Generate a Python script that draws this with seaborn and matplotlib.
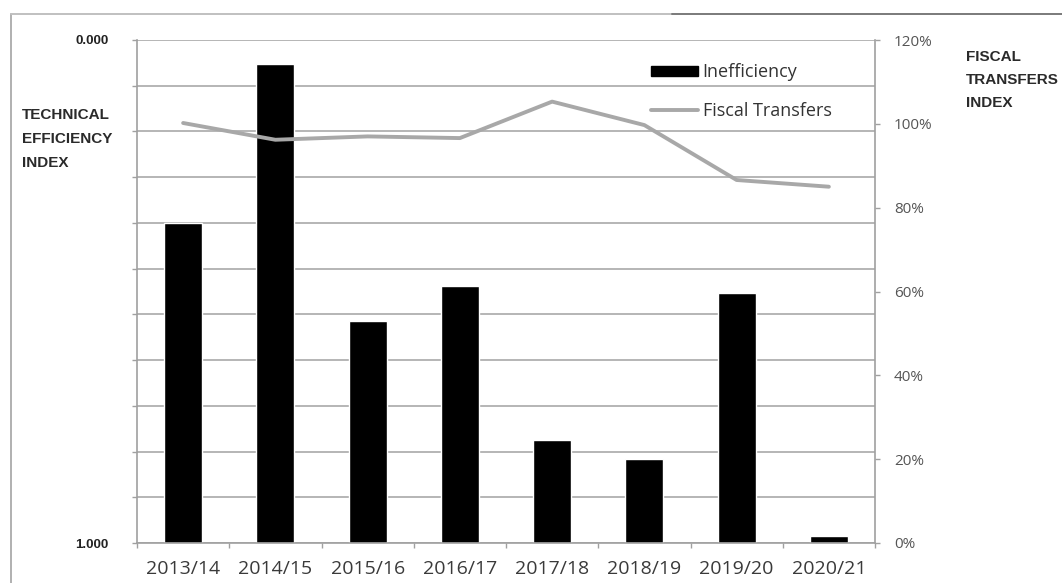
import numpy as np
import pandas as pd
import matplotlib
matplotlib.use("Agg")
import matplotlib.pyplot as plt
from matplotlib.lines import Line2D
from matplotlib.patches import Patch
import seaborn as sns

# Fiscal years
years = ["2013/14", "2014/15", "2015/16", "2016/17", "2017/18", "2018/19", "2019/20", "2020/21"]
# Inefficiency (1 - technical efficiency index)
inefficiency = [0.637, 0.952, 0.442, 0.510, 0.204, 0.167, 0.498, 0.013]
# Fiscal transfers index (share)
fiscal_transfers = [1.002, 0.962, 0.970, 0.966, 1.053, 0.997, 0.866, 0.850]

df = pd.DataFrame({"year": years,
                   "inefficiency": inefficiency,
                   "transfers": fiscal_transfers,
                   "pos": np.arange(len(years))})

sns.set_theme(style="white")
plt.rcParams["font.family"] = ["Open Sans", "DejaVu Sans"]

W, H = 1062, 583
fig = plt.figure(figsize=(W / 100, H / 100), dpi=100)
ax = fig.add_axes([137 / W, 1 - 543 / H, (875 - 137) / W, (543 - 40) / H])

grid_c = "#b5b5b5"
axis_c = "#a0a0a0"

# Bars: inefficiency measured up from 1.000 on the efficiency scale
sns.barplot(data=df, x="year", y="inefficiency", color="black", saturation=1,
            width=0.41, ax=ax, zorder=2)
ax.set_xlim(-0.5, len(years) - 0.5)
ax.set_ylim(0, 1)
ax.set_xlabel("")
ax.set_ylabel("")

# Left scale: 0.000 at the top, 1.000 at the bottom
yt = np.linspace(0, 1, 12)
ax.set_yticks(yt)
ax.set_yticklabels(["1.000"] + [""] * 10 + ["0.000"])
ax.yaxis.grid(True, color=grid_c, linewidth=1.4, zorder=0)
ax.set_axisbelow(True)
ax.tick_params(axis="y", which="major", left=True, length=3.6, width=1,
               color=axis_c, labelsize=9.5, pad=17, labelcolor="#222222")
for lab in ax.get_yticklabels():
    lab.set_fontweight("bold")
    lab.set_family(["Liberation Sans", "DejaVu Sans"])

# X axis: ticks between categories
ax.set_xticks(np.arange(len(years)))
ax.set_xticklabels(years)
ax.set_xticks(np.arange(len(years) + 1) - 0.5, minor=True)
ax.tick_params(axis="x", which="major", bottom=False, labelsize=14,
               labelcolor="#3a3a3a", pad=6)
ax.tick_params(axis="x", which="minor", bottom=True, length=3.6, width=1,
               color=axis_c)

for side in ["top", "right"]:
    ax.spines[side].set_visible(False)
for side in ["left", "bottom"]:
    ax.spines[side].set_color(axis_c)
    ax.spines[side].set_linewidth(1.2)

# Fiscal transfers line on the right scale
ax2 = ax.twinx()
line_c = "#a8a8a8"
sns.lineplot(data=df, x="pos", y="transfers", color=line_c, linewidth=2.8,
             ax=ax2, sort=False, zorder=3)
ax2.set_ylim(0, 1.2)
ax2.set_yticks(np.arange(0, 1.21, 0.2))
ax2.set_yticklabels([f"{int(round(v * 100))}%" for v in np.arange(0, 1.21, 0.2)])
ax2.set_ylabel("")
ax2.set_xlabel("")
ax2.grid(False)
ax2.tick_params(axis="y", right=True, length=3.6, width=1, color=axis_c,
                labelsize=11, labelcolor="#555555", pad=10)
for side in ["top", "left", "bottom"]:
    ax2.spines[side].set_visible(False)
ax2.spines["right"].set_color(axis_c)
ax2.spines["right"].set_linewidth(1.2)
ax2.set_xlim(-0.5, len(years) - 0.5)

# Legend without frame
handles = [Patch(facecolor="black", edgecolor="black", label="Inefficiency"),
           Line2D([0], [0], color=line_c, linewidth=2.8, label="Fiscal Transfers")]
leg = ax2.legend(handles=handles, loc="upper left",
                 bbox_to_anchor=((644 - 137) / (875 - 137), 1 - (56 - 40) / (543 - 40)),
                 frameon=False, fontsize=13, handlelength=2.6, handleheight=0.45,
                 handletextpad=0.25, labelspacing=1.15, borderaxespad=0)
for t in leg.get_texts():
    t.set_color("#333333")

# Axis titles
title_kw = dict(fontsize=11, fontweight="bold", color="#2a2a2a",
                family=["Liberation Sans", "DejaVu Sans"],
                va="center", ha="left")
fig.text(22 / W, 1 - 139 / H, "TECHNICAL\nEFFICIENCY\nINDEX", linespacing=1.9, **title_kw)
fig.text(966 / W, 1 - 80 / H, "FISCAL\nTRANSFERS\nINDEX", linespacing=1.8, **title_kw)

# Outer chart frame (left and top edges)
fig.add_artist(Line2D([11 / W, 11 / W], [0, 1 - 14 / H], transform=fig.transFigure,
                      color="#b0b0b0", linewidth=1.4))
fig.add_artist(Line2D([11 / W, 672 / W], [1 - 14 / H, 1 - 14 / H], transform=fig.transFigure,
                      color="#c0c0c0", linewidth=1.4))
fig.add_artist(Line2D([672 / W, 1], [1 - 14 / H, 1 - 14 / H], transform=fig.transFigure,
                      color="#7a7a7a", linewidth=1.4))

fig.savefig("out.png", dpi=100)
